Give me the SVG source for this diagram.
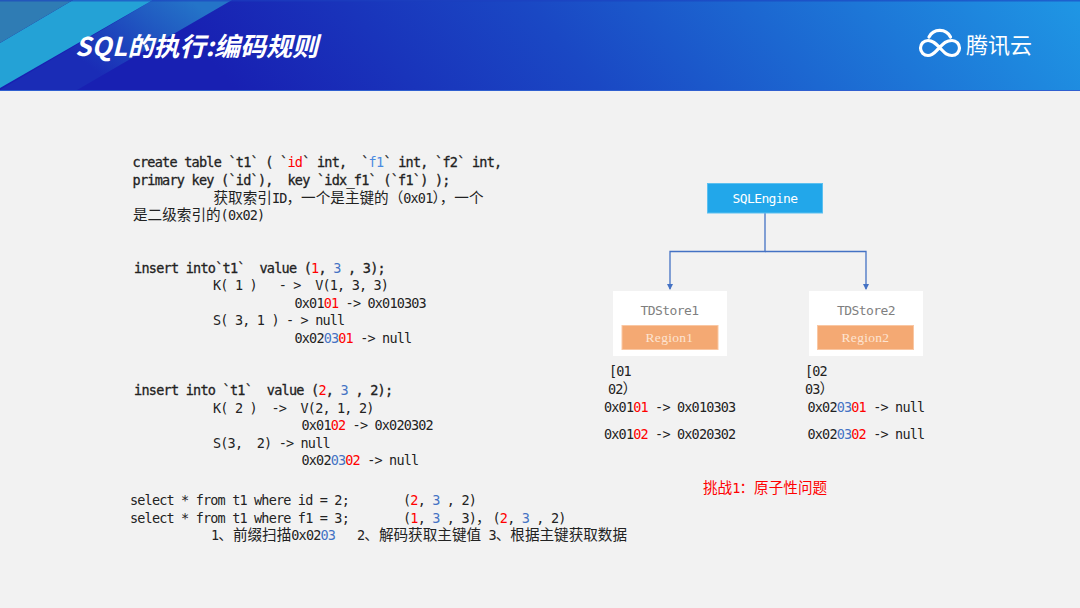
<svg xmlns="http://www.w3.org/2000/svg" width="1080" height="608" viewBox="0 0 1080 608">
<style>
text{font-family:"DejaVu Sans Mono","Liberation Mono","Noto Sans CJK SC",monospace;font-size:13.5px;letter-spacing:-.83px;fill:#222;white-space:pre}
.b{letter-spacing:-.75px;stroke:#222;stroke-width:.3px}
.b .r,.b .u,.b .k{stroke:none}
.c{font-family:"Noto Sans CJK SC","Noto Sans",sans-serif;font-size:14.6px;letter-spacing:0}
.r{fill:#f00}.u{fill:#4472c4}.k{fill:#4a8ae0}
.w{fill:#fff}
.n{font-size:13px;letter-spacing:-.6px;text-anchor:middle}
.rg{font-family:"Liberation Serif","DejaVu Serif",serif;font-size:13.5px;letter-spacing:.3px;fill:#fde4d2}
.title{font-family:"Noto Sans CJK SC",sans-serif;font-size:26px;letter-spacing:0;font-weight:bold;font-style:italic;fill:#fff}
</style>
<defs>
<linearGradient id="hd" gradientUnits="userSpaceOnUse" x1="260" y1="120" x2="800" y2="-330"><stop offset="0" stop-color="#1820b2"/><stop offset="0.4" stop-color="#1a48c4"/><stop offset="1" stop-color="#1f96e4"/></linearGradient>
<linearGradient id="st" gradientUnits="userSpaceOnUse" x1="190" y1="0" x2="120" y2="90"><stop offset="0" stop-color="#2474c8"/><stop offset="1" stop-color="#1a2cb6"/></linearGradient>
<marker id="ah" markerWidth="7" markerHeight="7" refX="5" refY="3" orient="auto" markerUnits="userSpaceOnUse"><path d="M0 0L6 3L0 6Z" fill="#4472c4"/></marker>
</defs>
<rect width="1080" height="608" fill="#f2f2f2"/>
<g id="header">
<rect width="1080" height="90" fill="url(#hd)"/>
<rect y="90" width="1080" height="1" fill="#2f5fd0"/>
<path d="M153 0H232L77 90H0Z" fill="url(#st)"/>
<path d="M0 88L153 0H73L0 43Z" fill="#24a2d6"/>
<path d="M0 43L73 0H0Z" fill="#2f7cb4"/>
<rect width="1080" height="1.5" fill="#1c40c0" opacity=".6"/>
<text class="title" x="75" y="56"><tspan letter-spacing=".4">SQL</tspan>的执行:编码规则</text>
<g id="logo" fill="none" stroke="#fff" stroke-width="3.2" stroke-linecap="round">
<path d="M928 40.500C933 40.500 936 44 940 48C944 52 946 55.500 952 55.500A7.500 7.500 0 0 0 952 40.500C946 40.500 943 44 939 48C935 52 933 55.500 928 55.500A7.500 7.500 0 0 1 928 40.500"/>
<path d="M929 37A12 12 0 0 1 950.500 37"/>
</g>
<text x="966" y="53" style="font-family:'Noto Sans CJK SC',sans-serif;font-size:22px;letter-spacing:0;fill:#fff">腾讯云</text>
</g>
<g id="sql-text">
<text class="b" x="132.500" y="166.500">create table `t1` ( `<tspan class="r">id</tspan>` int,  `<tspan class="k">f1</tspan>` int, `f2` int,</text>
<text class="b" x="132.500" y="184.500">primary key (`id`),  key `idx_f1` (`f1`) );</text>
<text x="213.500" y="202.500"><tspan class="c">获取索引</tspan>ID<tspan class="c">，一个是主键的（</tspan>0x01<tspan class="c">），一个</tspan></text>
<text x="133" y="220"><tspan class="c">是二级索引的</tspan>(0x02)</text>
<text class="b" x="134" y="272.500">insert into`t1`  value (<tspan class="r">1</tspan>, <tspan class="u">3</tspan> , 3);</text>
<text x="213" y="290">K( 1 )   - &gt;  V(1, 3, 3)</text>
<text x="294.500" y="307.500">0x01<tspan class="r">01</tspan> -&gt; 0x010303</text>
<text x="213" y="325">S( 3, 1 ) - &gt; null</text>
<text x="294.500" y="342.500">0x02<tspan class="u">03</tspan><tspan class="r">01</tspan> -&gt; null</text>
<text class="b" x="134" y="395">insert into `t1`  value (<tspan class="r">2</tspan>, <tspan class="u">3</tspan> , 2);</text>
<text x="213" y="412.500">K( 2 )  -&gt;  V(2, 1, 2)</text>
<text x="301.500" y="430">0x01<tspan class="r">02</tspan> -&gt; 0x020302</text>
<text x="213" y="447.500">S(3,  2) -&gt; null</text>
<text x="301.500" y="465">0x02<tspan class="u">03</tspan><tspan class="r">02</tspan> -&gt; null</text>
<text x="130" y="505">select * from t1 where id = 2;<tspan x="403">(</tspan><tspan class="r">2</tspan>, <tspan class="u">3</tspan> , 2)</text>
<text x="130" y="522.500">select * from t1 where f1 = 3;<tspan x="403">(</tspan><tspan class="r">1</tspan>, <tspan class="u">3</tspan> , 3)<tspan class="c">，</tspan><tspan x="492.500">(</tspan><tspan class="r">2</tspan>, <tspan class="u">3</tspan> , 2)</text>
<text x="211" y="540">1<tspan class="c">、前缀扫描</tspan>0x02<tspan class="u">03</tspan>   2<tspan class="c">、解码获取主键值</tspan> 3<tspan class="c">、根据主键获取数据</tspan></text>
</g>
<g id="connectors" fill="none" stroke="#4472c4" stroke-width="1.300">
<path d="M765 213V251.500H670V289" marker-end="url(#ah)"/>
<path d="M765 251.500H866V289" marker-end="url(#ah)"/>
</g>
<g id="sqlengine"><rect x="707.500" y="183.500" width="115" height="29.500" fill="#22a7ea" stroke="#5cc0f0"/><text class="n w" x="765" y="203">SQLEngine</text></g>
<g id="tdstore1"><rect x="613" y="291" width="114" height="65" fill="#fff"/><text class="n" style="fill:#7f7f7f" x="669.500" y="315">TDStore1</text></g>
<g id="region1"><rect x="622" y="325.500" width="96" height="24" fill="#f4a973" stroke="#f9c7a3"/><text class="n rg" x="669.500" y="342">Region1</text></g>
<g id="tdstore2"><rect x="809" y="291" width="114" height="65" fill="#fff"/><text class="n" style="fill:#7f7f7f" x="866" y="315">TDStore2</text></g>
<g id="region2"><rect x="817.500" y="325.500" width="96" height="24" fill="#f4a973" stroke="#f9c7a3"/><text class="n rg" x="865.500" y="342">Region2</text></g>
<g id="ranges">
<text x="609" y="375.500">[01</text>
<text x="608" y="393.500">02<tspan class="c">）</tspan></text>
<text x="805" y="375.500">[02</text>
<text x="805" y="393.500">03<tspan class="c">）</tspan></text>
<text x="604" y="412">0x01<tspan class="r">01</tspan> -&gt; 0x010303</text>
<text x="604" y="438.500">0x01<tspan class="r">02</tspan> -&gt; 0x020302</text>
<text x="807.500" y="412">0x02<tspan class="u">03</tspan><tspan class="r">01</tspan> -&gt; null</text>
<text x="807.500" y="438.500">0x02<tspan class="u">03</tspan><tspan class="r">02</tspan> -&gt; null</text>
<text class="r" x="703" y="493"><tspan class="c r">挑战</tspan>1<tspan class="c r">：原子性问题</tspan></text>
</g>
</svg>
